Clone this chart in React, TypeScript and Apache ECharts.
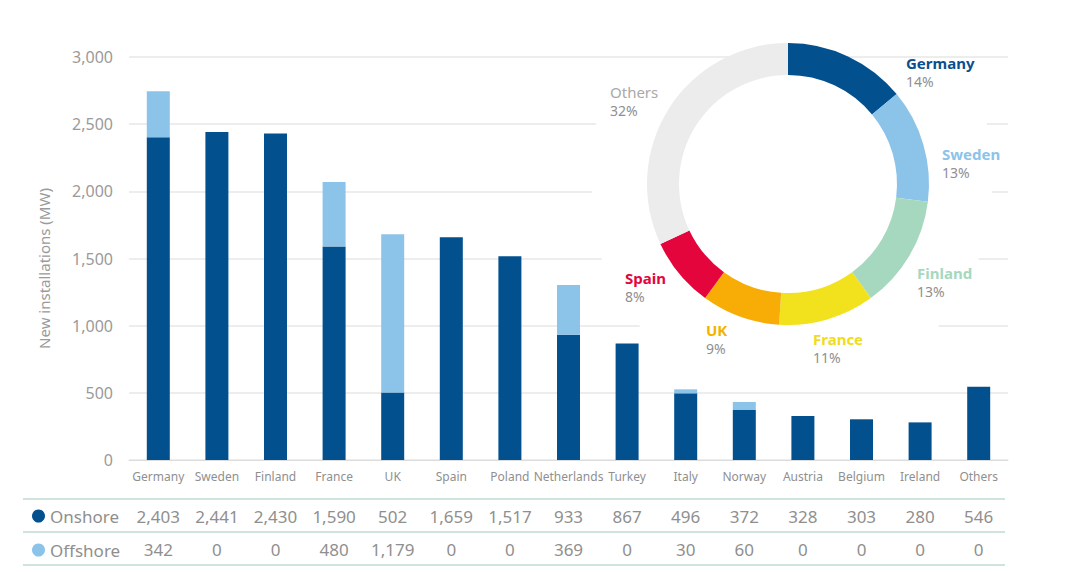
import React, { useEffect, useRef } from 'react';
import * as echarts from 'echarts';

const categories = ['Germany', 'Sweden', 'Finland', 'France', 'UK', 'Spain', 'Poland', 'Netherlands', 'Turkey', 'Italy', 'Norway', 'Austria', 'Belgium', 'Ireland', 'Others'];
const onshore = [2403, 2441, 2430, 1590, 502, 1659, 1517, 933, 867, 496, 372, 328, 303, 280, 546];
const offshore = [342, 0, 0, 480, 1179, 0, 0, 369, 0, 30, 60, 0, 0, 0, 0];

const shareNames = ['Germany', 'Sweden', 'Finland', 'France', 'UK', 'Spain', 'Others'];
const sharePct = [14, 13, 13, 11, 9, 8, 32];

const yMin = 0;
const yMax = 3000;
const yInterval = 500;

const FONT = 'Noto Sans';
const DARK = '#03508f';
const LIGHT = '#8cc3e9';
const GRAY = '#8f8f8f';
const shareColors = ['#03508f', '#8cc3e9', '#a6d8bf', '#f2e21e', '#f8ad06', '#e3053c', '#ececec'];
const shareNameColors = ['#0b4f8f', '#8cc3e9', '#a6d8bf', '#efdc1d', '#f2b200', '#e3053c', '#a9a9a9'];

const PIE_C = [788, 184];
const labelOffsets = [[118, -112], [154, -21], [129, 98], [25, 164], [-82, 155], [-163, 103], [-178, -83]];

const fmt = (v: number) => v.toLocaleString('en-US');

function tableSeries(name: string, values: number[], y: number) {
  return {
    type: 'custom',
    name,
    silent: true,
    clip: false,
    z: 5,
    data: values.map((v, i) => [i, v]),
    renderItem: (params: any, api: any) => {
      const x = api.coord([api.value(0), 0])[0];
      return {
        type: 'text',
        x,
        y,
        style: {
          text: fmt(api.value(1)),
          align: 'center',
          verticalAlign: 'middle',
          fill: GRAY,
          fontSize: 17,
          fontFamily: FONT,
        },
      };
    },
  };
}

export default function App() {
  const ref = useRef<HTMLDivElement>(null);
  useEffect(() => {
    const chart = echarts.init(ref.current!, null, { renderer: 'svg' });
    const rich: any = { p: { color: GRAY, fontSize: 14, fontFamily: FONT, lineHeight: 18 } };
    shareNameColors.forEach((c, i) => {
      rich['n' + i] = {
        color: c,
        fontSize: 15,
        fontWeight: i === 6 ? 'normal' : 'bold',
        fontFamily: FONT,
        lineHeight: 18,
      };
    });
    const option: any = {
      animation: false,
      backgroundColor: '#ffffff',
      textStyle: { fontFamily: FONT },
      grid: { left: 129, right: 70, top: 57, bottom: 112 },
      legend: {
        data: ['Onshore', 'Offshore'],
        orient: 'vertical',
        left: 32,
        top: 506,
        padding: 0,
        itemGap: 14,
        itemWidth: 13,
        itemHeight: 13,
        icon: 'circle',
        selectedMode: false,
        textStyle: { color: GRAY, fontSize: 17, fontFamily: FONT, lineHeight: 20 },
      },
      xAxis: {
        type: 'category',
        data: categories,
        axisLine: { lineStyle: { color: '#dcdcdc', width: 1 } },
        axisTick: { show: false },
        axisLabel: { color: GRAY, fontSize: 12, fontFamily: FONT, margin: 10, interval: 0 },
      },
      yAxis: {
        type: 'value',
        min: yMin,
        max: yMax,
        interval: yInterval,
        name: 'New installations (MW)',
        nameLocation: 'middle',
        nameGap: 78,
        nameTextStyle: { color: '#9a9a9a', fontSize: 15, fontFamily: FONT, padding: [0, 20, 0, 0] },
        axisLine: { show: false },
        axisTick: { show: false },
        axisLabel: { color: '#9a9a9a', fontSize: 16, fontFamily: FONT, margin: 16, formatter: (v: number) => fmt(v) },
        splitLine: { lineStyle: { color: '#e7e7e7', width: 1.5 } },
      },
      graphic: [
        {
          type: 'polygon',
          z: 1,
          silent: true,
          shape: { points: [[600, 61], [982, 61], [992, 192], [978, 262], [933, 335], [645, 335], [602, 262], [592, 192]] },
          style: { fill: '#ffffff' },
        },
        { type: 'line', z: 1, silent: true, shape: { x1: 23, y1: 499, x2: 1005, y2: 499 }, style: { stroke: '#cfe4dc', lineWidth: 2 } },
        { type: 'line', z: 1, silent: true, shape: { x1: 23, y1: 532, x2: 1005, y2: 532 }, style: { stroke: '#cfe4dc', lineWidth: 2 } },
        { type: 'line', z: 1, silent: true, shape: { x1: 23, y1: 565, x2: 1005, y2: 565 }, style: { stroke: '#cfe4dc', lineWidth: 2 } },
      ],
      series: [
        {
          type: 'bar',
          name: 'Onshore',
          stack: 'total',
          barWidth: 23,
          itemStyle: { color: DARK },
          data: onshore,
        },
        {
          type: 'bar',
          name: 'Offshore',
          stack: 'total',
          barWidth: 23,
          itemStyle: { color: LIGHT },
          data: offshore,
        },
        tableSeries('onshoreRow', onshore, 516),
        tableSeries('offshoreRow', offshore, 549),
        {
          type: 'pie',
          name: 'Share',
          center: PIE_C,
          radius: [109, 141],
          startAngle: 90,
          clockwise: true,
          z: 3,
          silent: true,
          data: shareNames.map((n, i) => ({ name: n, value: sharePct[i], itemStyle: { color: shareColors[i] } })),
          labelLine: { show: false },
          label: {
            show: true,
            position: 'outside',
            formatter: (p: any) => `{n${p.dataIndex}|${p.name}}\n{p|${p.value}%}`,
            rich,
          },
          labelLayout: (p: any) => ({
            x: PIE_C[0] + labelOffsets[p.dataIndex][0],
            y: PIE_C[1] + labelOffsets[p.dataIndex][1],
            align: 'left',
            verticalAlign: 'middle',
          }),
        },
      ],
    };
    chart.setOption(option);
    return () => chart.dispose();
  }, []);
  return <div ref={ref} style={{ position: 'fixed', left: 0, top: 0, width: 1078, height: 572 }} />;
}
